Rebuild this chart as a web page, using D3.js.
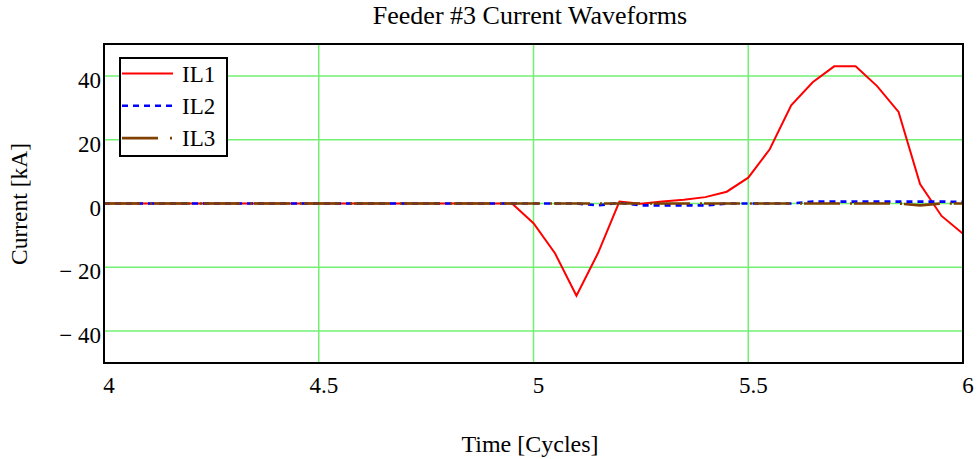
<!DOCTYPE html>
<html><head><meta charset="utf-8">
<script src="https://cdn.jsdelivr.net/npm/d3@7"></script>
<style>body{margin:0;background:#fff}svg{display:block}
text{font-family:"Liberation Serif","Times New Roman","DejaVu Serif",serif;}</style>
</head><body>
<svg id="c" width="979" height="459"></svg>
<script>
const time = [4.00,4.05,4.10,4.15,4.20,4.25,4.30,4.35,4.40,4.45,4.50,4.55,4.60,4.65,4.70,4.75,4.80,4.85,4.90,4.95,
  5.00,5.05,5.10,5.15,5.20,5.25,5.30,5.35,5.40,5.45,5.50,5.55,5.60,5.65,5.70,5.75,5.80,5.85,5.90,5.95,6.00];
const il1 = [0,0,0,0,0,0,0,0,0,0,0,0,0,0,0,0,0,0,0,0,
  -6.2,-15.6,-28.9,-15.6,0.6,-0.1,0.6,1.2,2.0,3.7,8.1,17.0,30.8,38.0,43.0,43.0,36.8,28.7,6.1,-3.9,-9.5];
const il2 = [0,0,0,0,0,0,0,0,0,0,0,0,0,0,0,0,0,0,0,0,
  0,0,0,-0.6,0.2,-0.6,-0.6,-0.6,-0.6,0,0,0,0,0.6,0.6,0.6,0.6,0.6,0.6,0.6,0.5];
const il3 = [0,0,0,0,0,0,0,0,0,0,0,0,0,0,0,0,0,0,0,0,
  0,0,0,0,0,0,0,0,0,0,0,0,0,0,0,0,0,0,-0.6,0,0];
const seriesNames = ["IL1","IL2","IL3"];
const xTicks = [4,4.5,5,5.5,6];
const xTickLabels = ["4","4.5","5","5.5","6"];
const yTicks = [-40,-20,0,20,40];
const yTickLabels = ["\u2212 40","\u2212 20","0","20","40"];

const svg = d3.select("#c");
const L=104,R=963,T=44,B=363;
const x = d3.scaleLinear().domain([4,6]).range([L,R]);
const y = d3.scaleLinear().domain([-50,50]).range([B,T]);
const grid = "#72f072";

svg.append("g").selectAll("line").data(xTicks.slice(1,-1)).join("line")
  .attr("x1",d=>x(d)).attr("x2",d=>x(d)).attr("y1",T).attr("y2",B)
  .attr("stroke",grid).attr("stroke-width",1.5);
svg.append("g").selectAll("line").data(yTicks).join("line")
  .attr("x1",L).attr("x2",R).attr("y1",d=>y(d)).attr("y2",d=>y(d))
  .attr("stroke",grid).attr("stroke-width",1.5);

svg.append("clipPath").attr("id","clp").append("rect")
  .attr("x",L).attr("y",T).attr("width",R-L).attr("height",B-T);

const styles = [
  {data:il1,color:"#ff0000",width:2,dash:null},
  {data:il2,color:"#0000ff",width:2.6,dash:"6,5"},
  {data:il3,color:"#804000",width:2.6,dash:"36,10,2,2"}
];
const line = d3.line().x((d,i)=>x(time[i])).y(d=>y(d));
const gl = svg.append("g").attr("clip-path","url(#clp)");
styles.forEach(s=>{
  gl.append("path").attr("d",line(s.data)).attr("fill","none")
    .attr("stroke",s.color).attr("stroke-width",s.width)
    .attr("stroke-dasharray",s.dash);
});

svg.append("rect").attr("x",L).attr("y",T).attr("width",R-L).attr("height",B-T)
  .attr("fill","none").attr("stroke","#000").attr("stroke-width",2);

svg.append("g").selectAll("text").data(xTicks).join("text")
  .attr("x",d=>x(d)+5).attr("y",393).attr("text-anchor","middle")
  .attr("font-size",23).attr("fill","#000")
  .text((d,i)=>xTickLabels[i]);
svg.append("g").selectAll("text").data(yTicks).join("text")
  .attr("x",101).attr("y",d=>y(d)+12).attr("text-anchor","end")
  .attr("font-size",23).attr("fill","#000")
  .text((d,i)=>yTickLabels[i]);

svg.append("text").attr("x",530).attr("y",24).attr("text-anchor","middle")
  .attr("font-size",26).text("Feeder #3 Current Waveforms");
svg.append("text").attr("x",530).attr("y",452).attr("text-anchor","middle")
  .attr("font-size",24).text("Time [Cycles]");
svg.append("text").attr("transform","translate(27,204) rotate(-90)").attr("text-anchor","middle")
  .attr("font-size",23.5).text("Current [kA]");

const lg = svg.append("g");
lg.append("rect").attr("x",120).attr("y",58).attr("width",107).attr("height",98)
  .attr("fill","#fff").attr("stroke","#000").attr("stroke-width",2);
seriesNames.forEach((n,i)=>{
  const yy = 73.5 + i*32.3;
  lg.append("line").attr("x1",122).attr("x2",173).attr("y1",yy).attr("y2",yy)
    .attr("stroke",styles[i].color).attr("stroke-width",styles[i].width)
    .attr("stroke-dasharray",i===2?"36,12,2,20":styles[i].dash);
  lg.append("text").attr("x",182).attr("y",yy+8)
    .attr("font-size",23).text(n);
});
</script>
</body></html>
